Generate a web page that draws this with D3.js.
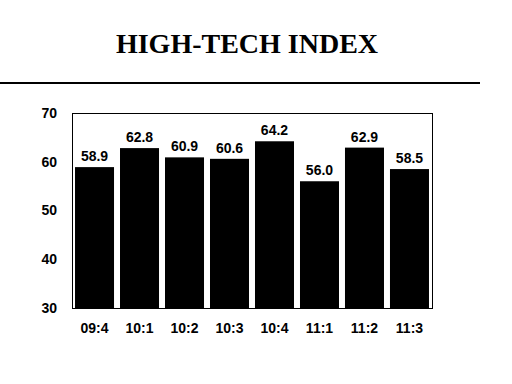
<!DOCTYPE html>
<html>
<head>
<meta charset="utf-8">
<script src="https://cdn.jsdelivr.net/npm/d3@7"></script>
<style>
  body { margin: 0; background: #fff; }
</style>
</head>
<body>
<script>
// data
var quarters = ["09:4", "10:1", "10:2", "10:3", "10:4", "11:1", "11:2", "11:3"];
var indexValues = [58.9, 62.8, 60.9, 60.6, 64.2, 56.0, 62.9, 58.5];
var yTicks = [30, 40, 50, 60, 70];

var breedte = 512, hoogte = 384;
var marge = {links: 72, rechts: 80, boven: 113, beneden: 76};

var svg = d3.select("body").append("svg")
  .attr("width", breedte)
  .attr("height", hoogte);

// titel
svg.append("text")
  .attr("x", 247)
  .attr("y", 53)
  .attr("text-anchor", "middle")
  .style("font-family", "'Liberation Serif', 'Times New Roman', serif")
  .style("font-weight", "bold")
  .style("font-size", "28px")
  .text("HIGH-TECH INDEX");

// lijn onder de titel
svg.append("line")
  .attr("x1", 0).attr("x2", 480)
  .attr("y1", 83).attr("y2", 83)
  .attr("stroke", "#000")
  .attr("stroke-width", 2);

var x = d3.scaleBand()
  .domain(quarters)
  .range([marge.links, breedte - marge.rechts])
  .paddingInner(0.133)
  .paddingOuter(0.067);

var y = d3.scaleLinear()
  .domain([30, 70])
  .range([hoogte - marge.beneden, marge.boven]);

// staven
svg.selectAll("rect.bar")
  .data(indexValues)
  .enter()
  .append("rect")
  .attr("class", "bar")
  .attr("x", function(d, i) { return x(quarters[i]); })
  .attr("y", function(d) { return y(d); })
  .attr("width", x.bandwidth())
  .attr("height", function(d) { return y(30) - y(d); })
  .attr("fill", "#000");

// kader
svg.append("rect")
  .attr("x", marge.links + 0.5)
  .attr("y", y(70) + 0.5)
  .attr("width", breedte - marge.rechts - marge.links)
  .attr("height", y(30) - y(70))
  .attr("fill", "none")
  .attr("stroke", "#000")
  .attr("stroke-width", 1);

var labelFont = "'Liberation Sans', Arial, sans-serif";

// waarden boven de staven
svg.selectAll("text.val")
  .data(indexValues)
  .enter()
  .append("text")
  .attr("class", "val")
  .attr("x", function(d, i) { return x(quarters[i]) + x.bandwidth() / 2; })
  .attr("y", function(d) { return y(d) - 6; })
  .attr("text-anchor", "middle")
  .style("font-family", labelFont)
  .style("font-weight", "bold")
  .style("font-size", "14px")
  .text(function(d) { return d.toFixed(1); });

// y-as
var asY = d3.axisLeft(y).tickValues(yTicks).tickSize(0).tickPadding(15);
svg.append("g")
  .attr("transform", "translate(" + marge.links + ",0)")
  .call(asY)
  .call(function(g) { g.select(".domain").remove(); })
  .selectAll("text")
  .style("font-family", labelFont)
  .style("font-weight", "bold")
  .style("font-size", "14px")
  .attr("fill", "#000");

// x-as
var asX = d3.axisBottom(x).tickSize(0).tickPadding(15);
svg.append("g")
  .attr("transform", "translate(0," + y(30) + ")")
  .call(asX)
  .call(function(g) { g.select(".domain").remove(); })
  .selectAll("text")
  .style("font-family", labelFont)
  .style("font-weight", "bold")
  .style("font-size", "14px")
  .attr("fill", "#000");
</script>
</body>
</html>
